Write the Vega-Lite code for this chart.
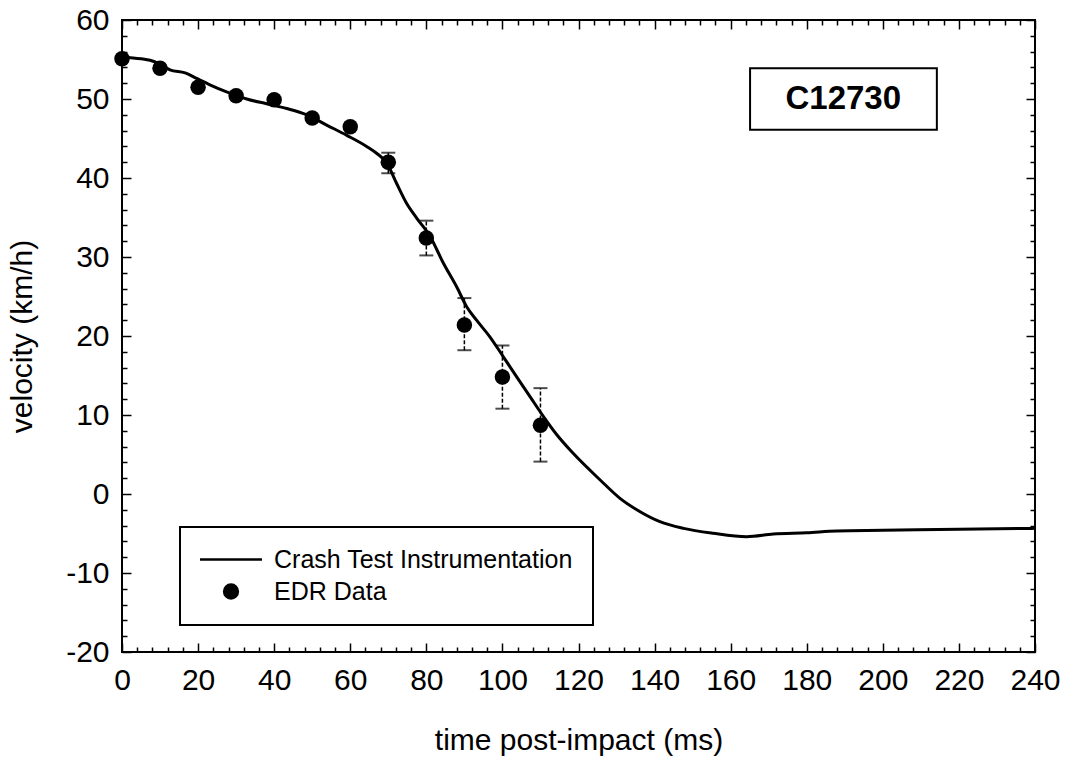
{
  "$schema": "https://vega.github.io/schema/vega-lite/v6.json",
  "autosize": {"type": "none"},
  "width": 913,
  "height": 632,
  "padding": {"left": 122, "top": 20, "right": 35, "bottom": 106},
  "background": "white",
  "datasets": {
    "curve": [
      {"t": 0, "v": 55.3}, {"t": 5, "v": 55.1}, {"t": 7.4, "v": 54.9}, {"t": 10, "v": 54.4},
      {"t": 12.6, "v": 53.7}, {"t": 16.6, "v": 53.3}, {"t": 19.6, "v": 52.6}, {"t": 23.1, "v": 51.8},
      {"t": 27.5, "v": 50.9}, {"t": 32.8, "v": 50.0}, {"t": 38, "v": 49.4}, {"t": 43.3, "v": 48.8},
      {"t": 48.6, "v": 48.0}, {"t": 53.8, "v": 46.7}, {"t": 59.1, "v": 45.4}, {"t": 64.3, "v": 44.0},
      {"t": 67, "v": 43.1}, {"t": 69.6, "v": 41.9}, {"t": 72.2, "v": 39.3}, {"t": 74.8, "v": 36.8},
      {"t": 77.5, "v": 34.9}, {"t": 81, "v": 32.6}, {"t": 84.5, "v": 29.2}, {"t": 88, "v": 26.2},
      {"t": 90.6, "v": 23.7}, {"t": 93.2, "v": 22.0}, {"t": 96.7, "v": 19.9}, {"t": 100.2, "v": 17.4},
      {"t": 103.8, "v": 14.8}, {"t": 107.3, "v": 12.3}, {"t": 110.8, "v": 9.8}, {"t": 114.3, "v": 7.5},
      {"t": 118.6, "v": 5.15}, {"t": 125.7, "v": 1.77}, {"t": 130.9, "v": -0.55}, {"t": 136.2, "v": -2.24},
      {"t": 141.4, "v": -3.5}, {"t": 147.6, "v": -4.35}, {"t": 155.4, "v": -4.97}, {"t": 164.2, "v": -5.4},
      {"t": 171.2, "v": -5.06}, {"t": 180, "v": -4.9}, {"t": 187.9, "v": -4.68}, {"t": 200, "v": -4.6},
      {"t": 220, "v": -4.45}, {"t": 240, "v": -4.35}
    ],
    "edr": [
      {"t": 0, "v": 55.1}, {"t": 10, "v": 53.9}, {"t": 20, "v": 51.5}, {"t": 30, "v": 50.4},
      {"t": 40, "v": 49.9}, {"t": 50, "v": 47.6}, {"t": 60, "v": 46.5}, {"t": 70, "v": 42.0},
      {"t": 80, "v": 32.4}, {"t": 90, "v": 21.4}, {"t": 100, "v": 14.8}, {"t": 110, "v": 8.7}
    ],
    "err": [
      {"t": 70, "lo": 40.6, "hi": 43.2}, {"t": 80, "lo": 30.2, "hi": 34.6},
      {"t": 90, "lo": 18.2, "hi": 24.8}, {"t": 100, "lo": 10.8, "hi": 18.8},
      {"t": 110, "lo": 4.1, "hi": 13.4}
    ],
    "label": [{"name": "C12730"}]
  },
  "resolve": {"axis": {"x": "independent", "y": "independent"}},
  "layer": [
    {
      "data": {"name": "err"},
      "mark": {"type": "rule", "color": "black", "strokeWidth": 1.5, "strokeDash": [4, 2]},
      "encoding": {
        "x": {"field": "t", "type": "quantitative", "scale": {"domain": [0, 240], "nice": false},
              "axis": {"orient": "bottom", "values": [4,8,12,16,24,28,32,36,44,48,52,56,64,68,72,76,84,88,92,96,104,108,112,116,124,128,132,136,144,148,152,156,164,168,172,176,184,188,192,196,204,208,212,216,224,228,232,236], "tickSize": -5, "labels": false, "title": null}},
        "y": {"field": "lo", "type": "quantitative", "scale": {"domain": [-20, 60], "nice": false},
              "axis": {"orient": "left", "values": [-18,-16,-14,-12,-8,-6,-4,-2,2,4,6,8,12,14,16,18,22,24,26,28,32,34,36,38,42,44,46,48,52,54,56,58], "tickSize": -5, "labels": false, "title": null}},
        "y2": {"field": "hi"}
      }
    },
    {
      "data": {"name": "err"},
      "mark": {"type": "tick", "color": "black", "thickness": 2, "size": 14, "orient": "horizontal"},
      "encoding": {
        "x": {"field": "t", "type": "quantitative",
              "axis": {"orient": "top", "values": [4,8,12,16,24,28,32,36,44,48,52,56,64,68,72,76,84,88,92,96,104,108,112,116,124,128,132,136,144,148,152,156,164,168,172,176,184,188,192,196,204,208,212,216,224,228,232,236], "tickSize": -5, "labels": false, "title": null}},
        "y": {"field": "lo", "type": "quantitative",
              "axis": {"orient": "right", "values": [-18,-16,-14,-12,-8,-6,-4,-2,2,4,6,8,12,14,16,18,22,24,26,28,32,34,36,38,42,44,46,48,52,54,56,58], "tickSize": -5, "labels": false, "title": null}}
      }
    },
    {
      "data": {"name": "err"},
      "mark": {"type": "tick", "color": "black", "thickness": 2, "size": 14, "orient": "horizontal"},
      "encoding": {
        "x": {"field": "t", "type": "quantitative", "axis": null},
        "y": {"field": "hi", "type": "quantitative", "axis": null}
      }
    },
    {
      "data": {"name": "curve"},
      "mark": {"type": "line", "strokeWidth": 3, "interpolate": "monotone"},
      "encoding": {
        "x": {"field": "t", "type": "quantitative",
              "axis": {"orient": "bottom", "values": [0,20,40,60,80,100,120,140,160,180,200,220,240], "tickSize": -9, "labelPadding": 22, "labelFlush": false, "labelOverlap": false, "title": "time post-impact (ms)", "titlePadding": 30}},
        "y": {"field": "v", "type": "quantitative",
              "axis": {"orient": "left", "values": [-20,-10,0,10,20,30,40,50,60], "tickSize": -9, "labelPadding": 22, "labelFlush": false, "labelOverlap": false,
                       "labelExpr": "datum.value < 0 ? '-' + abs(datum.value) : '' + datum.value",
                       "title": "velocity (km/h)", "titlePadding": 28}},
        "color": {"datum": "Crash Test Instrumentation", "type": "nominal",
          "scale": {"domain": ["Crash Test Instrumentation", "EDR Data"], "range": ["black", "black"]},
          "legend": {
            "orient": "none", "legendX": 58, "legendY": 507, "title": null,
            "padding": 20, "strokeColor": "black", "fillColor": "white",
            "symbolSize": 400, "symbolType": "circle", "symbolStrokeWidth": 2.5,
            "labelFont": "Liberation Sans", "labelFontSize": 25, "labelColor": "black", "labelLimit": 0,
            "labelOffset": 49, "rowPadding": 6,
            "encode": {
              "legend": {"update": {"strokeWidth": {"value": 2}}},
              "symbols": {"update": {
                "shape": {"signal": "datum.value === 'EDR Data' ? 'circle' : 'M-3.1,0H3.1'"},
                "size": {"signal": "datum.value === 'EDR Data' ? 190 : 400"},
                "x": {"value": 31},
                "fill": {"signal": "datum.value === 'EDR Data' ? 'black' : 'transparent'"},
                "stroke": {"value": "black"},
                "opacity": {"value": 1}
              }}
            }
          }}
      }
    },
    {
      "data": {"name": "edr"},
      "mark": {"type": "point", "filled": true, "size": 240, "opacity": 1},
      "encoding": {
        "x": {"field": "t", "type": "quantitative",
              "axis": {"orient": "top", "values": [0,20,40,60,80,100,120,140,160,180,200,220,240], "tickSize": -9, "labels": false, "title": null}},
        "y": {"field": "v", "type": "quantitative",
              "axis": {"orient": "right", "values": [-20,-10,0,10,20,30,40,50,60], "tickSize": -9, "labels": false, "title": null}},
        "color": {"datum": "EDR Data", "type": "nominal"}
      }
    },
    {
      "data": {"name": "label"},
      "mark": {"type": "rect", "fill": "white", "stroke": "black", "strokeWidth": 2},
      "encoding": {
        "x": {"datum": 165.1, "type": "quantitative", "axis": null},
        "x2": {"datum": 214.2},
        "y": {"datum": 53.9, "type": "quantitative", "axis": null},
        "y2": {"datum": 46.1}
      }
    },
    {
      "data": {"name": "label"},
      "mark": {"type": "text", "font": "Liberation Sans", "fontSize": 33, "fontWeight": "bold", "color": "black", "align": "center", "baseline": "middle"},
      "encoding": {
        "text": {"field": "name"},
        "x": {"datum": 189.6, "type": "quantitative", "axis": null},
        "y": {"datum": 50.0, "type": "quantitative", "axis": null}
      }
    }
  ],
  "config": {
    "view": {"stroke": "black", "strokeWidth": 2},
    "axis": {
      "domain": false, "grid": false, "tickColor": "black", "tickWidth": 1.5,
      "labelFont": "Liberation Sans", "labelFontSize": 30, "labelColor": "black",
      "titleFont": "Liberation Sans", "titleFontSize": 30, "titleFontWeight": "normal", "titleColor": "black"
    }
  }
}
